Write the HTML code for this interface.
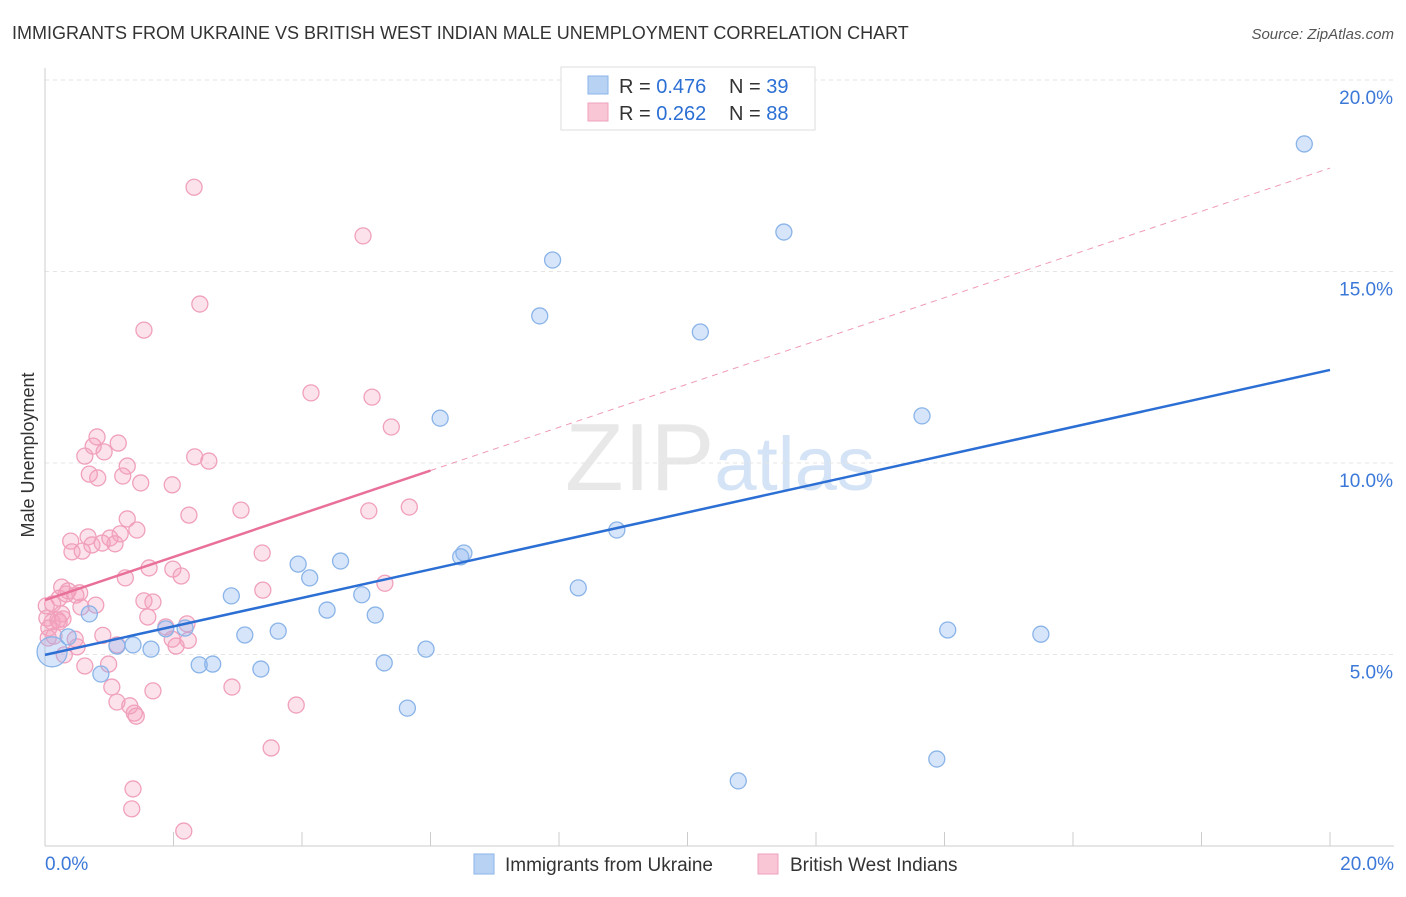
<!DOCTYPE html>
<html><head><meta charset="utf-8"><style>
body{margin:0;background:#fff;font-family:"Liberation Sans",sans-serif}
svg text{font-family:"Liberation Sans",sans-serif}
</style></head><body>
<svg id="chart" width="1406" height="892">
<text x="12" y="39" font-size="18" fill="#333">IMMIGRANTS FROM UKRAINE VS BRITISH WEST INDIAN MALE UNEMPLOYMENT CORRELATION CHART</text>
<text x="1394" y="39" font-size="15" fill="#555" font-style="italic" text-anchor="end">Source: ZipAtlas.com</text>
<text x="34" y="455" font-size="18" fill="#333" text-anchor="middle" transform="rotate(-90 34 455)">Male Unemployment</text>
<text x="720" y="490" font-size="96" fill="#e8e8e8" text-anchor="middle" font-family="Liberation Serif">ZIP<tspan fill="#d4e3f5" font-family="Liberation Sans" font-size="76">atlas</tspan></text>
<g id="grid"></g><g id="marks"></g>
<g>
<rect x="561" y="67" width="254" height="63" fill="#fff" stroke="#ddd"/>
<rect x="588" y="76" width="20" height="18" fill="#b8d2f4" stroke="#8ab4e8"/>
<rect x="588" y="103" width="20" height="18" fill="#f9c6d6" stroke="#f0a0bc"/>
<text x="619" y="93" font-size="20" fill="#333">R = <tspan fill="#2c6fd4">0.476</tspan></text>
<text x="729" y="93" font-size="20" fill="#333">N = <tspan fill="#2c6fd4">39</tspan></text>
<text x="619" y="120" font-size="20" fill="#333">R = <tspan fill="#2c6fd4">0.262</tspan></text>
<text x="729" y="120" font-size="20" fill="#333">N = <tspan fill="#2c6fd4">88</tspan></text>
</g>
<g>
<rect x="474" y="854" width="20" height="20" fill="#b8d2f4" stroke="#8ab4e8"/>
<text x="505" y="871" font-size="19" fill="#333">Immigrants from Ukraine</text>
<rect x="758" y="854" width="20" height="20" fill="#f9c6d6" stroke="#f0a0bc"/>
<text x="790" y="871" font-size="19" fill="#333">British West Indians</text>
</g>
</svg>
<script>
const xTicks=[0,2,4,6,8,10,12,14,16,18,20];
const yTicks=[5,10,15,20];
const blueX=[19.6,11.5,7.9,7.7,10.2,6.15,13.65,8.9,6.52,6.47,4.6,3.94,4.12,8.3,2.9,4.93,4.39,5.14,0.69,14.05,15.5,3.63,3.11,1.88,2.18,0.36,1.37,1.12,1.65,5.93,2.61,2.4,5.28,3.36,0.87,5.64,13.88,10.79,0.11];
const blueY=[18.33,16.03,15.3,13.84,13.42,11.17,11.23,8.25,7.65,7.55,7.44,7.36,7.0,6.74,6.53,6.56,6.16,6.03,6.06,5.64,5.53,5.61,5.51,5.67,5.69,5.46,5.25,5.22,5.14,5.14,4.75,4.73,4.78,4.62,4.49,3.6,2.27,1.7,5.07];
const pinkX=[2.32,4.95,2.41,1.54,4.14,5.09,5.39,0.81,1.14,0.75,0.92,0.62,2.33,2.55,1.28,0.69,1.21,0.82,1.49,1.98,3.05,5.04,5.67,2.24,1.28,1.43,1.17,0.4,0.67,1.01,0.89,1.09,0.73,0.58,0.42,3.38,1.62,1.99,2.12,1.25,5.29,3.39,0.26,0.36,0.54,0.48,0.33,0.22,0.12,0.02,1.54,1.68,0.79,0.56,0.26,0.03,1.6,2.21,1.88,0.11,0.2,0.28,0.06,0.9,1.98,0.47,0.14,2.23,2.04,1.12,0.05,0.99,0.62,2.91,1.04,1.68,1.12,1.32,3.91,1.39,1.42,3.52,1.37,1.35,2.16,0.22,0.3,0.5];
const pinkY=[17.2,15.93,14.15,13.47,11.83,11.72,10.94,10.68,10.52,10.44,10.29,10.18,10.16,10.05,9.92,9.71,9.66,9.61,9.48,9.43,8.77,8.75,8.85,8.64,8.54,8.25,8.15,7.96,8.07,8.04,7.91,7.89,7.86,7.7,7.68,7.65,7.26,7.23,7.05,7.0,6.86,6.68,6.76,6.66,6.61,6.55,6.58,6.47,6.32,6.27,6.4,6.37,6.29,6.24,6.06,5.95,5.98,5.8,5.72,5.85,5.9,5.93,5.69,5.5,5.4,5.4,5.48,5.37,5.22,5.25,5.43,4.75,4.7,4.15,4.15,4.05,3.76,3.66,3.68,3.47,3.39,2.56,1.49,0.97,0.39,5.85,4.99,5.2];
const blueLine=[4.99,12.43];
const pinkLine=[6.42,17.7];
const pinkSolidEnd=6;
const X=v=>45+v*64.25, Y=v=>846-v*38.3;
const NS="http://www.w3.org/2000/svg";
const grid=document.getElementById('grid'), marks=document.getElementById('marks');
function mk(tag,a,p){const e=document.createElementNS(NS,tag);for(const k in a)e.setAttribute(k,a[k]);p.appendChild(e);return e;}
yTicks.forEach(t=>{
 const l=mk('line',{x1:45,x2:1394,y1:Y(t),y2:Y(t),stroke:'#e4e4e4','stroke-dasharray':'4,4'},grid);
 
 
 const tx=mk('text',{x:1393,y:Y(t)+24,'font-size':19,fill:'#3b78d8','text-anchor':'end'},grid);tx.textContent=t.toFixed(1)+'%';
 
 
});
mk('line',{x1:45,x2:45,y1:68,y2:846,stroke:'#ccc'},grid);
mk('line',{x1:45,x2:1394,y1:846,y2:846,stroke:'#ccc'},grid);
xTicks.forEach(t=>{const l=mk('line',{x1:X(t),x2:X(t),y1:832,y2:846,stroke:'#ccc'},grid);
 
 });
[[0,'start',45],[20,'end',1394]].forEach(([t,a,x])=>{const tx=mk('text',{x:x,y:870,'font-size':19,fill:'#3b78d8','text-anchor':a},grid);tx.textContent=t.toFixed(1)+'%';
 
 });
pinkX.forEach((v,i)=>{const c=mk('circle',{cx:X(v),cy:Y(pinkY[i]),r:8,fill:'rgba(244,160,190,0.3)',stroke:'#f0a0bc','stroke-width':1.3},marks);
 
 });
blueX.forEach((v,i)=>{const c=mk('circle',{cx:X(v),cy:Y(blueY[i]),r:i==blueX.length-1?15:8,fill:'rgba(140,180,240,0.35)',stroke:'#8ab4e8','stroke-width':1.3},marks);
 
 });
const pv=x=>pinkLine[0]+(pinkLine[1]-pinkLine[0])*x/20;
const pd=mk('line',{x1:X(pinkSolidEnd),y1:Y(pv(pinkSolidEnd)),x2:X(20),y2:Y(pv(20)),stroke:'#e8709a','stroke-width':1,'stroke-dasharray':'6,5',opacity:0.7},marks);


const ps=mk('line',{x1:X(0),y1:Y(pv(0)),x2:X(pinkSolidEnd),y2:Y(pv(pinkSolidEnd)),stroke:'#e8709a','stroke-width':2.5},marks);


const bl=mk('line',{x1:X(0),y1:Y(blueLine[0]),x2:X(20),y2:Y(blueLine[1]),stroke:'#2c6fd4','stroke-width':2.5},marks);


</script>
</body></html>
